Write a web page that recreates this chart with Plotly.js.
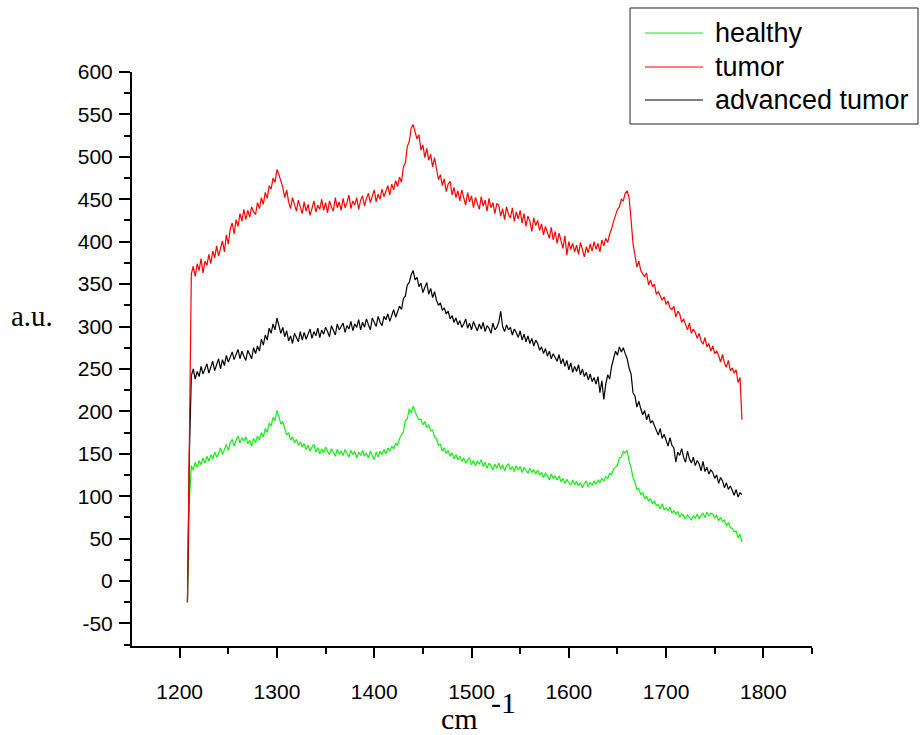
<!DOCTYPE html>
<html>
<head>
<meta charset="utf-8">
<script src="https://cdn.plot.ly/plotly-3.0.1.min.js"></script>
<style>
  html, body { margin: 0; padding: 0; background: #fff; }
  #chart { width: 920px; height: 735px; }
</style>
</head>
<body>
<div id="chart"></div>
<script>
// Raman shift (cm-1), sampled every 2 cm-1
const wavenumber = [
  1208,1210,1212,1214,1216,1218,1220,1222,1224,1226,
  1228,1230,1232,1234,1236,1238,1240,1242,1244,1246,
  1248,1250,1252,1254,1256,1258,1260,1262,1264,1266,
  1268,1270,1272,1274,1276,1278,1280,1282,1284,1286,
  1288,1290,1292,1294,1296,1298,1300,1302,1304,1306,
  1308,1310,1312,1314,1316,1318,1320,1322,1324,1326,
  1328,1330,1332,1334,1336,1338,1340,1342,1344,1346,
  1348,1350,1352,1354,1356,1358,1360,1362,1364,1366,
  1368,1370,1372,1374,1376,1378,1380,1382,1384,1386,
  1388,1390,1392,1394,1396,1398,1400,1402,1404,1406,
  1408,1410,1412,1414,1416,1418,1420,1422,1424,1426,
  1428,1430,1432,1434,1436,1438,1440,1442,1444,1446,
  1448,1450,1452,1454,1456,1458,1460,1462,1464,1466,
  1468,1470,1472,1474,1476,1478,1480,1482,1484,1486,
  1488,1490,1492,1494,1496,1498,1500,1502,1504,1506,
  1508,1510,1512,1514,1516,1518,1520,1522,1524,1526,
  1528,1530,1532,1534,1536,1538,1540,1542,1544,1546,
  1548,1550,1552,1554,1556,1558,1560,1562,1564,1566,
  1568,1570,1572,1574,1576,1578,1580,1582,1584,1586,
  1588,1590,1592,1594,1596,1598,1600,1602,1604,1606,
  1608,1610,1612,1614,1616,1618,1620,1622,1624,1626,
  1628,1630,1632,1634,1636,1638,1640,1642,1644,1646,
  1648,1650,1652,1654,1656,1658,1660,1662,1664,1666,
  1668,1670,1672,1674,1676,1678,1680,1682,1684,1686,
  1688,1690,1692,1694,1696,1698,1700,1702,1704,1706,
  1708,1710,1712,1714,1716,1718,1720,1722,1724,1726,
  1728,1730,1732,1734,1736,1738,1740,1742,1744,1746,
  1748,1750,1752,1754,1756,1758,1760,1762,1764,1766,
  1768,1770,1772,1774,1776,1778
];

// Intensity (a.u.) - healthy tissue
const healthy = [
  -25,95,136,131,140,134,142,137,145,139,
  147,141,149,144,152,146,150,157,149,155,
  161,154,163,167,159,166,171,163,169,165,
  170,162,166,159,168,163,171,166,175,170,
  180,175,186,183,193,189,201,194,185,188,
  180,172,175,166,170,163,167,160,164,158,
  162,155,160,153,158,161,152,157,150,156,
  151,158,153,149,156,151,147,155,150,153,
  148,155,150,146,154,149,153,145,152,148,
  154,147,151,145,153,148,143,152,146,153,
  149,155,150,157,153,159,156,162,160,168,
  172,176,189,191,203,198,206,199,194,190,
  191,184,188,181,184,177,178,170,168,160,
  161,153,157,150,154,147,151,144,149,143,
  147,141,145,139,143,145,137,142,136,141,
  138,143,135,140,133,139,136,131,138,133,
  139,132,137,130,136,138,131,135,129,136,
  131,135,128,134,130,127,133,128,131,126,
  131,125,128,122,127,124,119,126,121,124,
  119,124,117,121,115,120,116,113,119,114,
  117,112,116,110,115,118,111,116,113,118,
  114,119,116,121,118,123,121,127,125,132,
  134,137,145,146,153,151,154,141,134,122,
  116,108,109,102,104,97,100,94,97,91,
  94,89,90,85,91,84,86,83,87,80,
  83,79,82,75,79,77,73,78,75,72,
  77,74,79,73,78,80,75,81,77,80,
  79,74,78,71,75,70,72,65,69,63,
  62,58,59,51,55,46
];

// Intensity (a.u.) - tumor
const tumor = [
  -25,168,362,371,359,374,366,380,363,377,
  372,385,374,389,381,395,383,392,401,388,
  408,397,415,422,409,426,418,433,424,438,
  426,437,429,441,435,432,446,439,452,444,
  458,451,466,462,475,470,485,479,471,464,
  452,461,447,439,452,444,436,449,441,433,
  447,436,444,431,439,448,435,443,438,450,
  437,446,434,448,441,436,452,440,447,437,
  451,440,446,455,439,448,443,452,438,449,
  454,442,451,457,446,453,461,447,456,450,
  462,453,460,466,455,468,461,472,465,476,
  470,488,493,512,518,534,538,529,521,526,
  508,514,499,510,496,503,488,499,484,473,
  479,466,474,459,468,471,455,464,452,460,
  448,461,452,443,458,447,454,440,452,445,
  438,453,442,449,436,451,440,446,433,445,
  443,430,439,426,441,432,428,440,424,435,
  427,437,422,433,418,430,424,412,428,419,
  425,413,421,408,418,411,404,417,402,412,
  398,410,401,392,407,384,400,391,398,388,
  396,385,399,390,382,394,387,397,389,400,
  391,398,388,402,395,404,399,409,415,424,
  430,438,441,450,448,457,460,452,426,398,
  384,370,377,366,362,359,363,349,355,347,
  350,338,341,336,331,335,326,330,322,320,
  324,311,318,315,305,309,303,296,304,292,
  297,293,286,292,283,279,287,276,280,271,
  277,268,271,266,258,267,257,252,260,248,
  251,245,249,234,240,190
];

// Intensity (a.u.) - advanced tumor
const advancedTumor = [
  -25,150,242,250,238,247,241,253,244,249,
  256,245,252,259,248,255,262,250,261,254,
  266,258,263,270,261,267,273,262,271,265,
  260,272,266,262,275,268,277,271,285,278,
  290,284,298,292,303,296,310,301,292,299,
  288,295,283,289,280,292,286,282,294,284,
  293,285,291,297,286,294,289,298,287,296,
  291,299,294,288,301,295,290,303,296,300,
  304,293,301,297,306,295,303,299,308,296,
  305,299,309,302,296,310,304,300,312,305,
  301,312,308,315,306,313,320,311,317,324,
  320,333,336,349,352,361,366,355,358,347,
  351,340,346,352,338,345,334,341,331,325,
  328,319,322,315,318,309,313,305,310,302,
  307,299,303,309,298,304,296,306,300,295,
  303,297,305,294,301,298,292,304,296,299,
  305,318,300,294,302,296,299,290,297,293,
  287,295,284,291,282,289,280,286,277,284,
  280,272,276,268,274,265,271,262,268,263,
  259,267,256,262,253,260,249,257,246,253,
  247,255,243,250,241,246,237,244,235,240,
  232,241,222,236,214,232,243,238,253,262,
  271,266,276,270,275,268,262,251,244,222,
  218,205,212,203,196,201,190,197,186,189,
  184,179,172,180,168,173,165,159,169,160,
  157,140,152,148,156,146,140,153,144,139,
  146,136,142,138,130,141,129,134,126,131,
  128,121,125,115,122,118,110,116,108,112,
  107,101,108,99,104,102
];

const seriesNames = ['healthy', 'tumor', 'advanced tumor'];
const seriesColors = ['#12ee12', '#ff0000', '#000000'];
const seriesValues = [healthy, tumor, advancedTumor];

const xTicks = [1200, 1300, 1400, 1500, 1600, 1700, 1800];
const yTicks = [-50, 0, 50, 100, 150, 200, 250, 300, 350, 400, 450, 500, 550, 600];

// Green first, then black, red on top
const drawOrder = [0, 2, 1];
const traces = drawOrder.map(i => ({
  type: 'scatter',
  mode: 'lines',
  name: seriesNames[i],
  x: wavenumber,
  y: seriesValues[i],
  line: { color: seriesColors[i], width: 1.2 },
  showlegend: false,
  hoverinfo: 'x+y+name'
}));

const tickFont = { family: 'Liberation Sans, Arial, sans-serif', size: 21, color: '#000' };

// Boxed legend in the upper-right corner
const legendRows = [1.0679, 1.0087, 0.9512];
const shapes = [{
  type: 'rect', xref: 'paper', yref: 'paper',
  x0: 0.7324, x1: 1.1559, y0: 0.9094, y1: 1.1115,
  line: { color: '#222', width: 1 }, fillcolor: 'rgba(0,0,0,0)'
}];
const annotations = [];
seriesNames.forEach((name, i) => {
  shapes.push({
    type: 'line', xref: 'paper', yref: 'paper',
    x0: 0.7544, x1: 0.8397, y0: legendRows[i], y1: legendRows[i],
    line: { color: seriesColors[i], width: 1 }
  });
  annotations.push({
    xref: 'paper', yref: 'paper', x: 0.8545, y: legendRows[i],
    xanchor: 'left', yanchor: 'middle', showarrow: false,
    text: name,
    font: { family: 'Liberation Sans, Arial, sans-serif', size: 27, color: '#000' }
  });
});

// Axis titles
const serif = 'Liberation Serif, Times New Roman, serif';
annotations.push({
  xref: 'paper', yref: 'paper', x: -0.147, y: 0.575,
  xanchor: 'center', yanchor: 'middle', showarrow: false,
  text: 'a.u.', font: { family: serif, size: 29, color: '#000' }
});
annotations.push({
  xref: 'paper', yref: 'paper', x: 0.481, y: -0.127,
  xanchor: 'center', yanchor: 'middle', showarrow: false,
  text: 'cm', font: { family: serif, size: 30, color: '#000' }
});
annotations.push({
  xref: 'paper', yref: 'paper', x: 0.546, y: -0.099,
  xanchor: 'center', yanchor: 'middle', showarrow: false,
  text: '-1', font: { family: serif, size: 30, color: '#000' }
});

const layout = {
  width: 920,
  height: 735,
  margin: { l: 132, r: 108, t: 72, b: 89, pad: 0 },
  paper_bgcolor: '#fff',
  plot_bgcolor: '#fff',
  showlegend: false,
  xaxis: {
    range: [1151, 1850],
    tickmode: 'array',
    tickvals: xTicks,
    ticktext: xTicks.map(String),
    ticks: 'outside', ticklen: 10, tickwidth: 2, tickcolor: '#000',
    minor: { dtick: 50, tick0: 1150, ticks: 'outside', ticklen: 6, tickwidth: 2, tickcolor: '#000', showgrid: false },
    showline: true, linecolor: '#000', linewidth: 2,
    showgrid: false, zeroline: false,
    tickfont: tickFont,
    ticklabelstandoff: 16
  },
  yaxis: {
    range: [-76.6, 600],
    tickmode: 'array',
    tickvals: yTicks,
    ticktext: yTicks.map(String),
    ticks: 'outside', ticklen: 11, tickwidth: 2, tickcolor: '#000',
    minor: { dtick: 25, tick0: 0, ticks: 'outside', ticklen: 6, tickwidth: 2, tickcolor: '#000', showgrid: false },
    showline: true, linecolor: '#000', linewidth: 2,
    showgrid: false, zeroline: false,
    tickfont: tickFont,
    ticklabelstandoff: 2
  },
  shapes: shapes,
  annotations: annotations
};

Plotly.newPlot('chart', traces, layout, { displayModeBar: false, staticPlot: true });
</script>
</body>
</html>
